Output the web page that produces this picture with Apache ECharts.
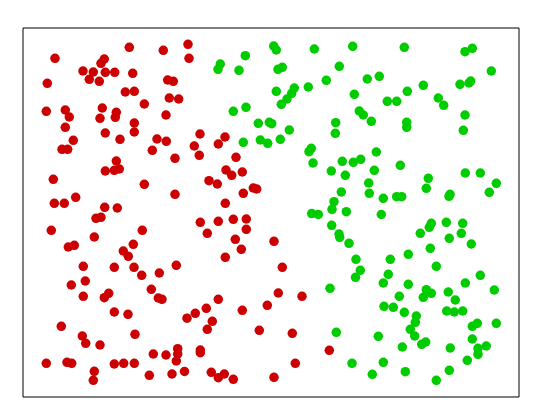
<!DOCTYPE html>
<html><head><meta charset="utf-8">
<script src="https://cdn.jsdelivr.net/npm/echarts@6/dist/echarts.min.js"></script>
<style>html,body{margin:0;padding:0;background:#fff}#c{width:550px;height:420px}</style>
</head><body><div id="c"></div>
<script>
const redX = [55,129.3,163.3,188,189,104.3,101,83,93.3,105.3,114.7,89.3,99.3,132.7,47.3,167.7,173.3,125.3,134.3,169.3,178.7,144.3,46.3,65.3,69.3,102.3,100,116.3,115.3,166,65.3,134.3,134.3,105.3,120,73.3,62,67.7,157,166.3,152.3,175,116.3,105.3,114.3,119.3,53.3,144.3,175,75.7,54.3,64.3,104.7,117.3,96,101,51.3,94.3,142.3,68.3,74.3,133.3,123.3,128.3,83.3,114.3,134,141.7,159.3,176.3,71.3,85.3,83.3,104.3,108.7,151.3,158.3,162,114.3,128,187,61.3,82.3,85.7,100,135,46.3,67,71.7,94.3,93.3,114.3,123.7,134.3,153.3,166,177.7,177.7,176.3,149.3,172,184.5,200,194.3,199.3,225,218.3,236,226,231.7,242.3,209,217.3,243.3,253.3,256.7,225.3,200.3,218.3,233.3,246.3,246.3,207.3,235.3,241.3,225.3,274,282.3,278.3,302,267.3,218.3,206.3,195.3,242.3,212.3,207.3,259.3,292.3,200.3,200.3,329.3,295.3,211.3,218.3,224.3,233.3,274];
const redY = [58.3,47.3,50.3,44.3,58.3,59,63.3,71,72,72.3,72.3,79.3,81.3,73.3,83.3,80,81.3,92,91.3,98,99,104,111.3,110,117,108,118.3,112.3,117.3,115,127.3,123,132,133,139.3,140.3,149.3,149.3,139,141.3,150.3,158.3,161,171,170.3,169,179.3,184.3,194.3,197.3,203.3,203.3,207.3,208,218.3,217.3,230.3,237,230.3,247,245.3,244.3,251,256.3,266.3,267.3,267.3,275.3,273,265.3,285,281,296.3,297.7,293.3,289.3,298,299.3,312,314.3,318.2,326.3,336,343.3,345,334.3,363.3,362.3,363.3,371.3,380.3,364,363.3,363.3,354,355,348.7,354,361,375.3,374,371.5,134,146,155.3,137,144,157.3,170,175.3,172,180.7,184,193.3,188,189,203.3,222.3,221.3,219.3,219,229.3,233.3,239.3,249.3,257.3,241.3,267.3,293,296.3,305.3,299.3,308.3,313.3,310.3,321.3,329.3,330.3,333.3,350,352.7,350.3,363.3,372.3,377.7,374,379.3,377.3];
const greenX = [273.7,276.3,314.3,352.7,245.3,220.3,218,239,282.3,278,339.3,326.3,308.3,294.3,291.7,287,281.3,276.3,354.3,246,233.3,258.3,269.3,271.7,289.3,335.7,335.3,243.3,260.3,267.7,280.3,311.3,309,313,342.3,353.3,331.3,345.3,341.3,334,332,346.3,311.7,318.3,404.3,465,472.3,491.3,367.3,379.3,423.3,407.3,387.3,396.7,460,469,470.7,438.3,443.7,359.3,363.3,371.3,406.7,406.7,465,463.3,376.3,360.7,374.3,400.3,368.7,369.3,383.3,428.3,426.3,396.7,401.7,465.3,480.3,496.3,489.3,450,449,381.3,331.7,339,339.7,349,356,355.5,330,336.3,352,360.3,390.3,408.3,420.3,429.3,431.3,446.3,462.7,461.3,449.3,471.3,430.3,436.3,388.3,383.3,408.3,480.3,465.3,494.3,426.3,431.3,423.3,448.3,455.3,399.3,384,393.3,404.3,446.7,454.3,462.7,416.3,415.3,410.3,414.7,477.3,472.3,496.3,378.3,472.3,402.3,421.7,425.7,450.3,478,478,486.3,467.3,383.3,372.3,405.3,449.3,436.3];
const greenY = [46,50,49,46.3,55.7,64,69.3,70.3,67.3,69.3,66.3,80.3,87,88,93.3,99,104.3,91.3,94.3,107.3,111.3,123.3,122.3,123.7,130,122.7,133.3,142.3,140,143.3,139.3,148.3,151.7,163,161.3,162.3,171,175.3,192,201.7,209.3,211.7,213.6,214.5,47.3,51.7,48.3,71,79,76.3,85.3,91.3,101.3,101.3,84.3,83,81,98,105.3,111,115,121.3,122.3,127.3,115,130.3,152,159.3,170.3,165.3,183,193.3,198.3,178.3,188.3,196.7,196.7,173,173,183.3,192.3,194.3,196.3,214.5,225.3,234,237.3,243.3,259.3,277.3,288.3,332.3,363.3,270.3,259.3,254.3,233.3,227.3,223.3,222.3,223.3,233.3,238.3,244,248.3,266.3,274.3,283,284.3,275.3,283,290,289.7,293.3,297.3,292,300,296.3,306.3,307.3,312.3,311,312,311,316,322.3,329.3,336,323.3,326.3,323.3,336.3,339,347,344.3,342,348,348.3,354.3,346,360.3,362.3,374.3,371.7,370.3,380.3];

const zip = (xs, ys) => xs.map((x, i) => [x, ys[i]]);
const chart = echarts.init(document.getElementById('c'), null, {renderer: 'canvas'});
chart.setOption({
  animation: false,
  backgroundColor: '#fff',
  grid: {left: 23, top: 28, width: 496, height: 369, show: true, borderColor: '#000', borderWidth: 1, backgroundColor: 'transparent'},
  xAxis: {type: 'value', min: 23, max: 519, show: false},
  yAxis: {type: 'value', min: 28, max: 397, inverse: true, show: false},
  series: [
    {type: 'scatter', data: zip(redX, redY), symbolSize: 9.5, itemStyle: {color: '#cc0000', opacity: 1}},
    {type: 'scatter', data: zip(greenX, greenY), symbolSize: 9.5, itemStyle: {color: '#00cc00', opacity: 1}}
  ]
});
</script></body></html>
